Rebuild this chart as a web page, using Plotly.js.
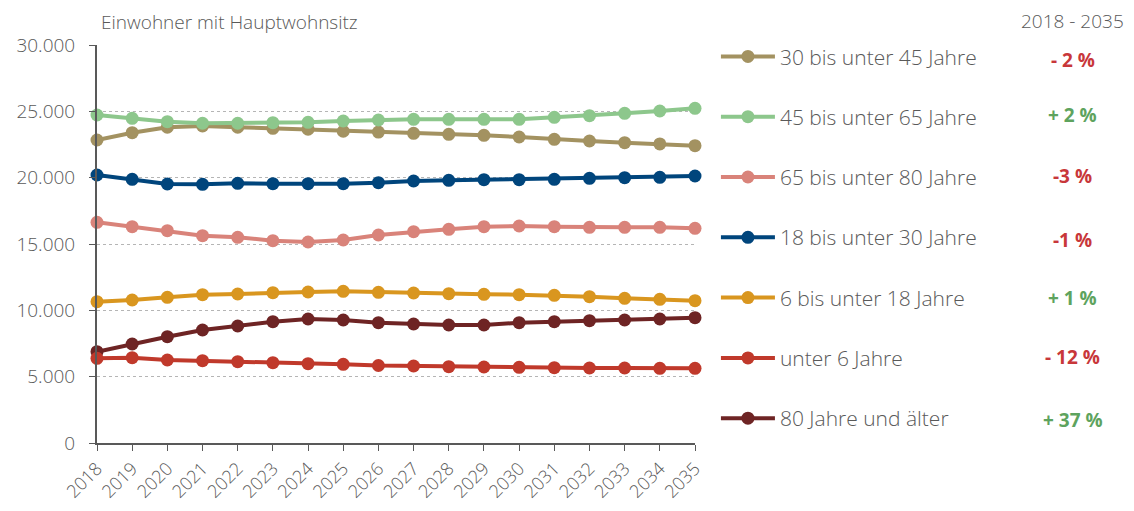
<!DOCTYPE html>
<html>
<head>
<meta charset="utf-8">
<script src="https://cdn.plot.ly/plotly-3.0.1.min.js"></script>
<style>html,body{margin:0;padding:0;background:#fff;}#chart{width:1134px;height:511px;}</style>
</head>
<body>
<div id="chart"></div>
<script>
const years = [2018,2019,2020,2021,2022,2023,2024,2025,2026,2027,2028,2029,2030,2031,2032,2033,2034,2035];

const seriesNames = ["30 bis unter 45 Jahre","45 bis unter 65 Jahre","65 bis unter 80 Jahre","18 bis unter 30 Jahre","6 bis unter 18 Jahre","unter 6 Jahre","80 Jahre und älter"];
const seriesColors = ["#a39261","#8dc78c","#d9837a","#00457c","#d9961f","#c0392b","#6e2424"];

const age30to45 = [22840,23390,23800,23900,23800,23720,23650,23500,23440,23345,23270,23195,23066,22893,22765,22637,22540,22410];
const age45to65 = [24725,24476,24220,24100,24100,24145,24175,24272,24348,24400,24400,24400,24400,24550,24672,24853,25026,25230];
const age65to80 = [16636,16305,16003,15627,15506,15250,15151,15302,15679,15928,16109,16305,16357,16305,16259,16259,16259,16184];
const age18to30 = [20202,19878,19523,19500,19576,19546,19546,19546,19622,19750,19802,19848,19848,19878,19953,19998,20028,20126];
const age6to18  = [10651,10779,10983,11179,11232,11330,11382,11435,11360,11307,11254,11209,11179,11134,11028,10908,10833,10727];
const under6    = [6385,6430,6257,6204,6129,6053,5978,5933,5842,5804,5752,5729,5706,5676,5654,5654,5631,5631];
const age80plus = [6882,7463,8013,8518,8819,9144,9347,9272,9068,8970,8895,8895,9068,9144,9219,9272,9347,9445];

const changeLabels = ["- 2 %","+ 2 %","-3 %","-1 %","+ 1 %","- 12 %","+ 37 %"];
const changeColors = ["#c8373a","#5ea35e","#c8373a","#c8373a","#5ea35e","#c8373a","#5ea35e"];
const periodLabel = "2018 - 2035";
const yTitle = "Einwohner mit Hauptwohnsitz";

const allSeries = [age30to45, age45to65, age65to80, age18to30, age6to18, under6, age80plus];
const drawOrder = [6,5,4,2,3,0,1];

const traces = [];
seriesNames.forEach((name, i) => {
  traces.push({
    type: "scatter", mode: "lines+markers",
    x: years, y: allSeries[i], name: name,
    legendgroup: "g" + i, legendrank: i + 1,
    line: {color: seriesColors[i], width: 4},
    marker: {color: seriesColors[i], size: 13},
    cliponaxis: false,
    hoverinfo: "x+y+name"
  });
});
const ordered = drawOrder.map(i => traces[i]);

const font = "Open Sans, Noto Sans, sans-serif";
const grey = "#595959";

const plotTop = 45, plotBottom = 443;
const toPaperY = px => (plotBottom - px) / (plotBottom - plotTop);
const changeRowsPx = [60, 115, 176, 240, 298, 357, 420];

const annotations = [{
  text: periodLabel, xref: "paper", yref: "paper",
  x: 1.632, y: toPaperY(21), xanchor: "center", yanchor: "middle",
  showarrow: false, font: {family: font, size: 19, color: grey, weight: 300}
}, {
  text: yTitle, xref: "paper", yref: "paper",
  x: 0.003, y: toPaperY(22), xanchor: "left", yanchor: "middle",
  showarrow: false, font: {family: font, size: 19, color: grey, weight: 300}
}];
changeLabels.forEach((t, i) => {
  annotations.push({
    text: "<b>" + t + "</b>", xref: "paper", yref: "paper",
    x: 1.632, y: toPaperY(changeRowsPx[i]), xanchor: "center", yanchor: "middle",
    showarrow: false, font: {family: font, size: 19, color: changeColors[i]}
  });
});

const layout = {
  width: 1134, height: 511,
  margin: {l: 97, r: 439, t: 45, b: 68},
  paper_bgcolor: "#fff", plot_bgcolor: "#fff",
  separators: ",.",
  font: {family: font, color: grey, size: 19, weight: 300},
  showlegend: true,
  legend: {
    x: 1.035, xanchor: "left", y: 1.022, yanchor: "top",
    traceorder: "grouped", tracegroupgap: 30,
    itemwidth: 54, maxheight: 1,
    font: {family: font, size: 21, color: grey, weight: 300},
    bgcolor: "rgba(0,0,0,0)"
  },
  xaxis: {
    type: "linear", range: [2018, 2035],
    tickmode: "array", tickvals: years, ticktext: years.map(String),
    tickangle: -45, tickfont: {size: 18, color: grey, weight: 300},
    ticks: "outside", ticklen: 6, tickcolor: grey, tickwidth: 1,
    showline: true, linecolor: grey, linewidth: 2,
    showgrid: false, zeroline: false, automargin: false, fixedrange: true
  },
  yaxis: {
    range: [0, 30000], tickvals: [0,5000,10000,15000,20000,25000,30000],
    tickformat: ",d", tickfont: {size: 19, color: grey, weight: 300},
    ticks: "outside", ticklen: 6, tickcolor: grey, tickwidth: 1,
    ticklabelstandoff: 10,
    showline: true, linecolor: grey, linewidth: 2,
    showgrid: true, gridcolor: "#b5b5b5", griddash: "dot", gridwidth: 1,
    zeroline: false, automargin: false, fixedrange: true
  },
  annotations: annotations
};

Plotly.newPlot("chart", ordered, layout, {displayModeBar: false, staticPlot: true});
</script>
</body>
</html>
